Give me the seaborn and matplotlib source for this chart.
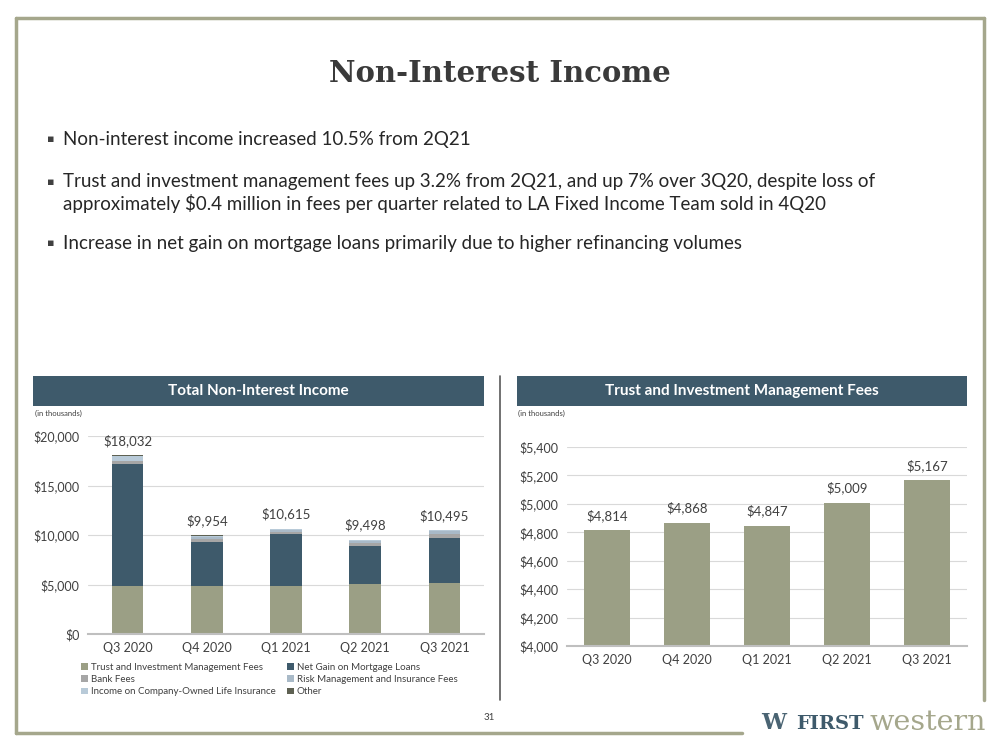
import numpy as np
import pandas as pd
import matplotlib
matplotlib.use("Agg")
import matplotlib.pyplot as plt
import seaborn as sns
from matplotlib.patches import Rectangle, Patch
from matplotlib.lines import Line2D
from matplotlib.ticker import FuncFormatter

# ---- data (in thousands) ----
quarters = ["Q3 2020", "Q4 2020", "Q1 2021", "Q2 2021", "Q3 2021"]
trust_fees = [4814, 4868, 4847, 5009, 5167]
net_gain_mortgage = [12360, 4420, 5220, 3910, 4560]
bank_fees = [280, 300, 280, 240, 380]
risk_mgmt_fees = [70, 230, 150, 200, 250]
coli_income = [470, 110, 100, 115, 115]
other_income = [38, 26, 18, 24, 23]
total_income = [18032, 9954, 10615, 9498, 10495]

series_names = [
    "Trust and Investment Management Fees",
    "Net Gain on Mortgage Loans",
    "Bank Fees",
    "Risk Management and Insurance Fees",
    "Income on Company-Owned Life Insurance",
    "Other",
]
series_colors = ["#9b9f85", "#3e5a6b", "#a6a6a6", "#a9bac8", "#b8cad8", "#5e6152"]

bullets = [
    "Non-interest income increased 10.5% from 2Q21",
    "Trust and investment management fees up 3.2% from 2Q21, and up 7% over 3Q20, despite loss of\n"
    "approximately $0.4 million in fees per quarter related to LA Fixed Income Team sold in 4Q20",
    "Increase in net gain on mortgage loans primarily due to higher refinancing volumes",
]

# ---- styling ----
sns.set_theme(style="white")
plt.rcParams["font.family"] = ["Lato", "DejaVu Sans"]
TEXT = "#404040"
HEADER = "#3e5a6b"
BORDER = "#a5a78c"


def fx(px):
    return px / 1000


def fy(py):
    return 1 - py / 750


fig = plt.figure(figsize=(10, 7.5), dpi=100)

# slide border (broken at bottom right for the logo)
for (x0, y0), (x1, y1) in [((16, 18), (984, 18)), ((16, 18), (16, 733)),
                           ((16, 733), (742, 733)), ((984, 18), (984, 700))]:
    fig.add_artist(Line2D([fx(x0), fx(x1)], [fy(y0), fy(y1)], color=BORDER, lw=2.5))

# title
fig.text(0.5, fy(73), "Non-Interest Income", ha="center", va="center",
         fontsize=21, fontweight="bold", family="DejaVu Serif", color="#3a3a3a")

# bullets
for text, y, by in zip(bullets, [139, 193, 243], [139, 182, 243]):
    fig.text(fx(47), fy(by), "\u25aa", ha="left", va="center",
             fontsize=8, color=TEXT, family=["DejaVu Sans"])
    fig.text(fx(63), fy(y), text, ha="left", va="center", fontsize=13.5,
             color="#262626", linespacing=1.25)

# panel headers
for x0, x1, label in [(33, 484, "Total Non-Interest Income"),
                      (517, 967, "Trust and Investment Management Fees")]:
    fig.add_artist(Rectangle((fx(x0), fy(406)), fx(x1 - x0), (406 - 376) / 750,
                             facecolor=HEADER, edgecolor="none"))
    fig.text(fx((x0 + x1) / 2), fy(391), label, ha="center", va="center",
             fontsize=11, fontweight="bold", color="white")
fig.text(fx(35), fy(413), "(in thousands)", ha="left", va="center", fontsize=5.5, color=TEXT)
fig.text(fx(518), fy(413), "(in thousands)", ha="left", va="center", fontsize=5.5, color=TEXT)

# divider
fig.add_artist(Line2D([fx(500), fx(500)], [fy(376), fy(700)], color="#595959", lw=1.2))

dollar_fmt = FuncFormatter(lambda v, p: f"${v:,.0f}")


def style_axis(ax):
    sns.despine(ax=ax, left=True, top=True, right=True)
    ax.spines["bottom"].set_color("#bfbfbf")
    ax.spines["bottom"].set_linewidth(1.5)
    ax.yaxis.grid(True, color="#d9d9d9", lw=0.8)
    ax.set_axisbelow(True)
    ax.tick_params(axis="both", length=0, labelsize=9, colors=TEXT, pad=6)
    ax.yaxis.set_major_formatter(dollar_fmt)
    ax.set_xlabel("")
    ax.set_ylabel("")


# ---- left: stacked bars ----
ax1 = fig.add_axes([fx(88), fy(634), fx(396), 198 / 750])
layers = [trust_fees, net_gain_mortgage, bank_fees, risk_mgmt_fees, coli_income, other_income]
cum = np.cumsum(np.array(layers), axis=0)
for i in range(len(layers) - 1, -1, -1):
    sns.barplot(x=quarters, y=cum[i], color=series_colors[i], width=0.4,
                saturation=1, ax=ax1, linewidth=0)
ax1.set_ylim(0, 20000)
ax1.set_yticks([0, 5000, 10000, 15000, 20000])
ax1.set_xlim(-0.5, 4.5)
style_axis(ax1)
for i, tot in enumerate(total_income):
    ax1.annotate(f"${tot:,}", (i, cum[-1][i]), xytext=(0, 6), textcoords="offset points",
                 ha="center", va="bottom", fontsize=9.5, color=TEXT, annotation_clip=False)

# legend filled row by row like the original (matplotlib fills columns first)
order = [0, 2, 4, 1, 3, 5]
handles = [Patch(facecolor=series_colors[k], edgecolor="none") for k in order]
labels = [series_names[k] for k in order]
ax1.legend(handles, labels, ncol=2, loc="upper left", bbox_to_anchor=(-0.04, -0.1),
           frameon=False, fontsize=7, handlelength=0.7, handleheight=0.7,
           handletextpad=0.3, columnspacing=1.2, labelspacing=0.35, labelcolor=TEXT)

# ---- right: trust fees ----
ax2 = fig.add_axes([fx(567), fy(646), fx(400), 199 / 750])
sns.barplot(x=quarters, y=trust_fees, color=series_colors[0], width=0.58,
            saturation=1, ax=ax2, linewidth=0)
ax2.set_ylim(4000, 5400)
ax2.set_yticks(np.arange(4000, 5401, 200))
ax2.set_xlim(-0.5, 4.5)
style_axis(ax2)
for i, v in enumerate(trust_fees):
    ax2.annotate(f"${v:,}", (i, v), xytext=(0, 6), textcoords="offset points",
                 ha="center", va="bottom", fontsize=9.5, color=TEXT, annotation_clip=False)

# page number and logo
fig.text(fx(489), fy(718), "31", ha="center", va="center", fontsize=7, color=TEXT)
fig.text(fx(761), fy(723), "W", ha="left", va="center", fontsize=16, fontweight="bold",
         family="DejaVu Serif", color="#4a6473")
fig.text(fx(796), fy(724), "FIRST", ha="left", va="center", fontsize=14,
         fontweight="bold", family="DejaVu Serif", color="#3e5a6b")
fig.text(fx(870), fy(723), "western", ha="left", va="center", fontsize=20.5,
         family="DejaVu Serif", color="#a5a78c")

fig.savefig("out.png", dpi=100)
